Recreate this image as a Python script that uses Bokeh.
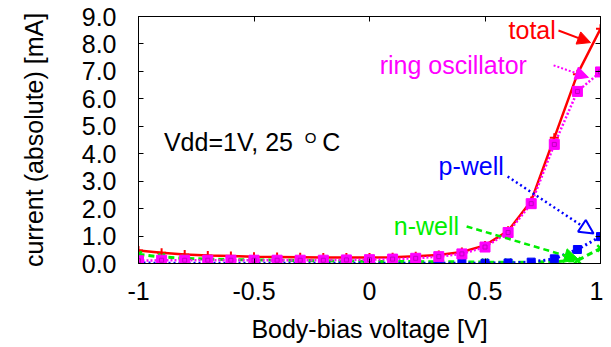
from bokeh.plotting import figure
from bokeh.models import (Range1d, LinearAxis, FixedTicker, Label, Arrow,
                          NormalHead, NumeralTickFormatter)
from bokeh.embed import file_html
from bokeh.resources import INLINE

# ---- data ----
bias = [-1.0, -0.9, -0.8, -0.7, -0.6, -0.5, -0.4, -0.3, -0.2, -0.1, 0.0,
        0.1, 0.2, 0.3, 0.4, 0.5, 0.6, 0.7, 0.8, 0.9, 1.0]
total = [0.47, 0.39, 0.33, 0.29, 0.27, 0.25, 0.24, 0.23, 0.22, 0.22, 0.22,
         0.23, 0.26, 0.31, 0.42, 0.66, 1.19, 2.28, 4.58, 6.90, 8.55]
ring_osc = [0.10, 0.12, 0.12, 0.12, 0.12, 0.12, 0.12, 0.12, 0.12, 0.13, 0.14,
            0.16, 0.19, 0.25, 0.35, 0.60, 1.13, 2.18, 4.34, 6.27, 6.98]
n_well = [0.33, 0.24, 0.19, 0.16, 0.14, 0.13, 0.12, 0.11, 0.10, 0.09, 0.08,
          0.07, 0.07, 0.06, 0.06, 0.05, 0.05, 0.05, 0.07, 0.11, 0.55]
p_well = [0.02, 0.01, 0.01, 0.01, 0.01, 0.01, 0.01, 0.01, 0.01, 0.01, 0.01,
          0.01, 0.01, 0.01, 0.01, 0.01, 0.02, 0.05, 0.17, 0.51, 0.98]

x_ticks = [-1.0, -0.5, 0.0, 0.5, 1.0]
x_tick_labels = ["-1", "-0.5", "0", "0.5", "1"]
y_ticks = [0, 1, 2, 3, 4, 5, 6, 7, 8, 9]

FONT = "Liberation Sans"
FS = "25px"

p = figure(frame_width=462, frame_height=247,
           x_range=Range1d(-1, 1), y_range=Range1d(0, 9),
           output_backend="svg", toolbar_location=None,
           min_border_left=138, min_border_right=3,
           min_border_top=16, min_border_bottom=10,
           x_axis_label="Body-bias voltage [V]",
           y_axis_label="current (absolute) [mA]")
p.grid.visible = False
p.outline_line_color = "black"
p.outline_line_width = 1
p.background_fill_color = "white"
p.border_fill_color = "white"

xa = p.xaxis[0]
xa.ticker = FixedTicker(ticks=x_ticks)
xa.major_label_overrides = {t: l for t, l in zip(x_ticks, x_tick_labels)}
ya = p.yaxis[0]
ya.ticker = FixedTicker(ticks=y_ticks)
ya.formatter = NumeralTickFormatter(format="0.0")

for ax in (xa, ya):
    ax.major_tick_in = 5
    ax.major_tick_out = 0
    ax.minor_tick_in = 0
    ax.minor_tick_out = 0
    ax.axis_line_color = "black"
    ax.major_tick_line_color = "black"
    ax.major_label_text_font = FONT
    ax.major_label_text_font_size = FS
    ax.major_label_text_color = "black"
    ax.axis_label_text_font = FONT
    ax.axis_label_text_font_size = FS
    ax.axis_label_text_font_style = "normal"
    ax.axis_label_text_color = "black"
xa.major_label_standoff = 18
xa.axis_label_standoff = 12
ya.major_label_standoff = 22
ya.axis_label_standoff = 31

# mirrored axes (ticks only, no labels)
top = LinearAxis(ticker=FixedTicker(ticks=x_ticks),
                 major_label_overrides={t: "" for t in x_ticks},
                 major_tick_in=5, major_tick_out=0, minor_tick_in=0, minor_tick_out=0,
                 major_label_standoff=0)
right = LinearAxis(ticker=FixedTicker(ticks=y_ticks),
                   major_label_overrides={t: "" for t in y_ticks},
                   major_tick_in=5, major_tick_out=0, minor_tick_in=0, minor_tick_out=0,
                   major_label_standoff=0)
p.add_layout(top, "above")
p.add_layout(right, "right")

RED, GREEN, BLUE, MAG = "#ff0000", "#00ee00", "#0000ff", "#ff00ff"

# total
p.line(bias, total, line_color=RED, line_width=2.5)
p.scatter(bias, total, marker="cross", size=9, line_color=RED, line_width=2)
# n-well
p.line(bias, n_well, line_color=GREEN, line_width=3, line_dash="6 4")
p.scatter(bias, n_well, marker="x", size=9, line_color=GREEN, line_width=2.5)
# p-well
p.line(bias, p_well, line_color=BLUE, line_width=3, line_dash="2 3")
p.scatter(bias, p_well, marker="square", size=8, fill_color=BLUE, line_color=BLUE)
# ring oscillator
p.line(bias, ring_osc, line_color=MAG, line_width=2.5, line_dash="2 2")
p.scatter(bias, ring_osc, marker="square", size=10, fill_color=MAG, line_color=MAG)
p.scatter(bias, ring_osc, marker="square", size=4, fill_color=None,
          line_color="#c000c0", line_width=1)

def lab(x, y, text, color, size=FS):
    p.add_layout(Label(x=x, y=y, text=text, text_color=color, text_font=FONT,
                       text_font_size=size, text_baseline="alphabetic",
                       text_align="left"))

lab(0.602, 8.52, "total", RED)
lab(0.044, 7.25, "ring oscillator", MAG)
lab(0.299, 3.57, "p-well", BLUE)
lab(0.105, 1.38, "n-well", GREEN)
lab(-0.89, 4.42, "Vdd=1V, 25", "black")
lab(-0.28, 4.58, "O", "black", size="15px")
lab(-0.205, 4.42, "C", "black")

p.add_layout(Arrow(x_start=0.818, y_start=8.49, x_end=0.957, y_end=8.05,
                   line_color=RED, line_width=2,
                   end=NormalHead(size=13, fill_color=RED, line_color=RED)))
p.add_layout(Arrow(x_start=0.797, y_start=7.22, x_end=0.948, y_end=6.78,
                   line_color=MAG, line_width=2, line_dash="2 2",
                   end=NormalHead(size=13, fill_color=MAG, line_color=MAG)))
p.add_layout(Arrow(x_start=0.598, y_start=3.17, x_end=0.970, y_end=1.09,
                   line_color=BLUE, line_width=2.5, line_dash="2 3",
                   end=NormalHead(size=14, fill_color="white", line_color=BLUE,
                                  line_width=2)))
p.add_layout(Arrow(x_start=0.4205, y_start=1.35, x_end=0.905, y_end=0.146,
                   line_color=GREEN, line_width=2.5, line_dash="6 4",
                   end=NormalHead(size=14, fill_color=GREEN, line_color=GREEN)))

open("out.html", "w").write(file_html(p, INLINE))
